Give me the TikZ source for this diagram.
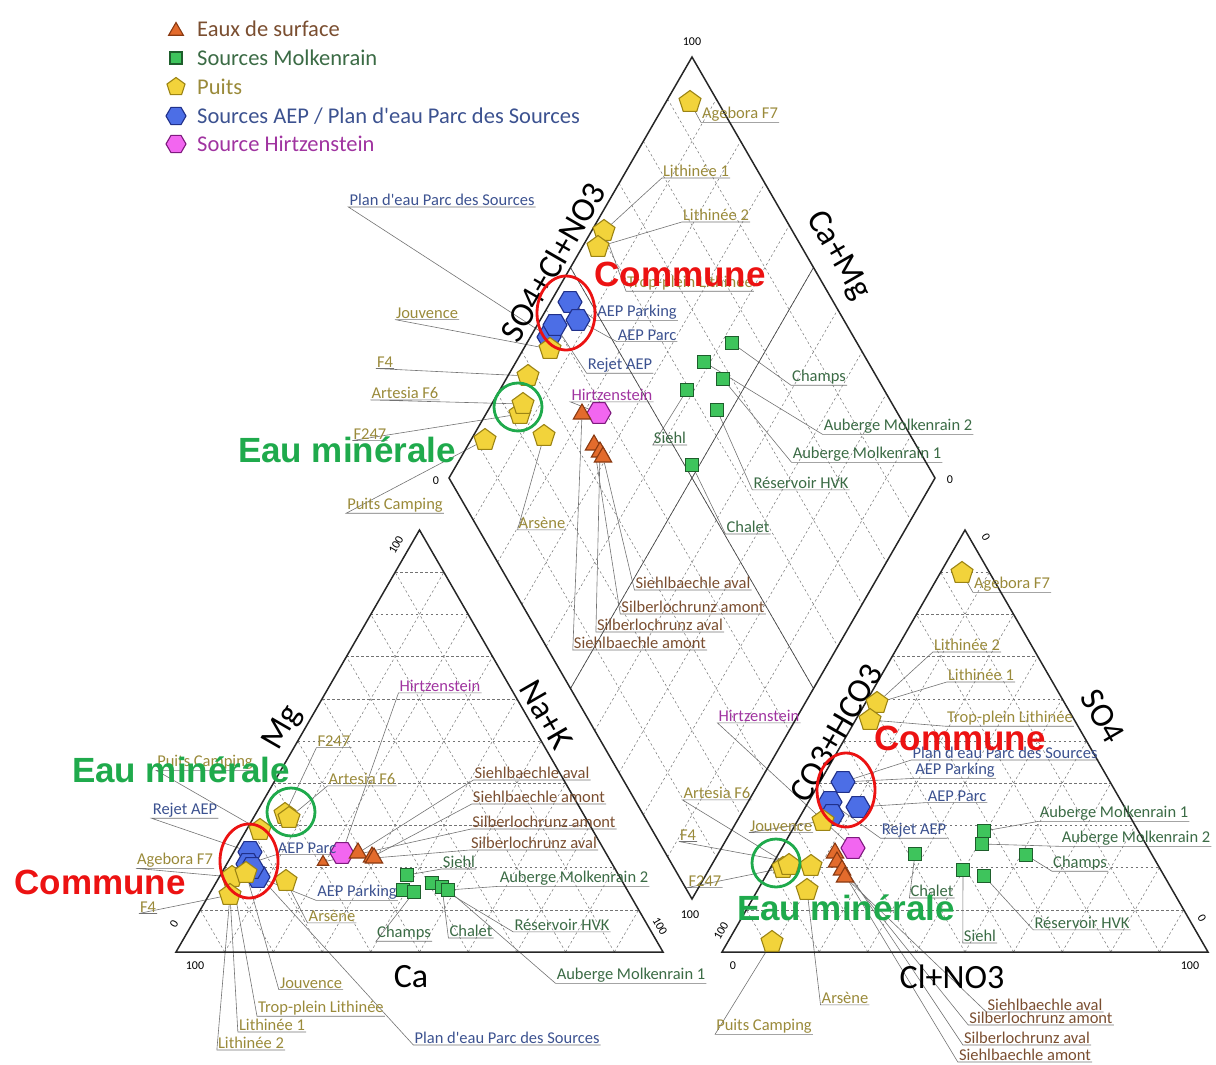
\documentclass[tikz,border=0pt]{standalone}
\usepackage{fontspec}
\setmainfont{Carlito}[Ligatures=TeXOff]
\newfontfamily\notefont{Liberation Sans}
\usetikzlibrary{shapes.geometric,calc}
\pgfdeclarelayer{bg}
\pgfsetlayers{bg,main}

\definecolor{triFill}{HTML}{E36B2C}
\definecolor{triDraw}{HTML}{8A3A12}
\definecolor{sqFill}{HTML}{3EC45C}
\definecolor{sqDraw}{HTML}{1E5E2C}
\definecolor{pentFill}{HTML}{F2D33B}
\definecolor{pentDraw}{HTML}{9C8414}
\definecolor{hexFill}{HTML}{4C6EE6}
\definecolor{hexDraw}{HTML}{20308A}
\definecolor{hirFill}{HTML}{F266F0}
\definecolor{hirDraw}{HTML}{7E1A7E}
\definecolor{txtBrown}{HTML}{7A4E30}
\definecolor{txtGreen}{HTML}{3B6B45}
\definecolor{txtOlive}{HTML}{9A8A3A}
\definecolor{txtBlue}{HTML}{3C5290}
\definecolor{txtPink}{HTML}{A034A0}
\definecolor{noteRed}{HTML}{EC1212}
\definecolor{noteGreen}{HTML}{1FAA4C}

\begin{document}
\begin{tikzpicture}[x=1pt, y=-1pt,
	surf/.style={regular polygon, regular polygon sides=3, minimum size=20pt, inner sep=0pt, fill=triFill, draw=triDraw, line width=1.1pt},
	molk/.style={rectangle, minimum size=13pt, inner sep=0pt, fill=sqFill, draw=sqDraw, line width=1.1pt},
	puits/.style={regular polygon, regular polygon sides=5, minimum size=23pt, inner sep=0pt, fill=pentFill, draw=pentDraw, line width=1.1pt},
	aep/.style={regular polygon, regular polygon sides=6, minimum size=24pt, inner sep=0pt, fill=hexFill, draw=hexDraw, line width=1.1pt},
	hirtz/.style={regular polygon, regular polygon sides=6, minimum size=24pt, inner sep=0pt, fill=hirFill, draw=hirDraw, line width=1.1pt},
	lbl/.style={inner sep=1pt, font=\fontsize{16.5}{18}\selectfont},
	olive/.style={lbl, text=txtOlive},
	blue/.style={lbl, text=txtBlue},
	green/.style={lbl, text=txtGreen},
	brown/.style={lbl, text=txtBrown},
	pink/.style={lbl, text=txtPink},
	legtxt/.style={inner sep=1pt, anchor=west, font=\fontsize{22.5}{24}\selectfont},
	lead/.style={draw=black!55, line width=0.6pt},
	gridline/.style={black!55, line width=0.5pt, dash pattern=on 2.5pt off 2.5pt},
	frame/.style={black!85, line width=1.5pt},
	axis/.style={inner sep=0pt, font=\fontsize{34}{36}\selectfont},
	tick/.style={inner sep=0pt, font=\fontsize{12}{13}\selectfont},
	note/.style={inner sep=0pt, font=\notefont\bfseries\fontsize{35}{38}\selectfont},
	ring/.style={line width=2.8pt}]
\useasboundingbox (0,0) rectangle (1216,1065);

% corners of the three fields
\coordinate (cLeft) at (176,952);
\coordinate (cRight) at (663,952);
\coordinate (cTop) at (419.5,530);
\coordinate (aLeft) at (722,952);
\coordinate (aRight) at (1208,952);
\coordinate (aTop) at (965,530);
\coordinate (dLeft) at (449,478);
\coordinate (dTop) at (692,57);
\coordinate (dRight) at (935,478);
\coordinate (dBot) at (692,899);

% grids
\foreach \i in {1,...,9} {
	\draw[gridline] ($(cLeft)!\i/10!(cTop)$) -- ($(cRight)!\i/10!(cTop)$);
	\draw[gridline] ($(cLeft)!\i/10!(cRight)$) -- ($(cTop)!\i/10!(cRight)$);
	\draw[gridline] ($(cRight)!\i/10!(cLeft)$) -- ($(cTop)!\i/10!(cLeft)$);
	\draw[gridline] ($(aLeft)!\i/10!(aTop)$) -- ($(aRight)!\i/10!(aTop)$);
	\draw[gridline] ($(aLeft)!\i/10!(aRight)$) -- ($(aTop)!\i/10!(aRight)$);
	\draw[gridline] ($(aRight)!\i/10!(aLeft)$) -- ($(aTop)!\i/10!(aLeft)$);
	\draw[gridline] ($(dLeft)!\i/10!(dTop)$) -- ($(dBot)!\i/10!(dRight)$);
	\draw[gridline] ($(dLeft)!\i/10!(dBot)$) -- ($(dTop)!\i/10!(dRight)$);
}
\draw[black!70, line width=0.7pt] ($(dLeft)!0.5!(dTop)$) -- ($(dBot)!0.5!(dRight)$);
\draw[black!70, line width=0.7pt] ($(dLeft)!0.5!(dBot)$) -- ($(dTop)!0.5!(dRight)$);
\draw[frame] (cLeft) -- (cRight) -- (cTop) -- cycle;
\draw[frame] (aLeft) -- (aRight) -- (aTop) -- cycle;
\draw[frame] (dLeft) -- (dTop) -- (dRight) -- (dBot) -- cycle;

% axis titles and ticks
\node[axis, rotate=60] (axSO) at (553,262) {SO4+Cl+NO3};
\node[axis, rotate=-60] (axCaMg) at (838,256) {Ca+Mg};
\node[axis, rotate=60] (axMg) at (283,728) {Mg};
\node[axis, rotate=-60] (axNaK) at (546,715) {Na+K};
\node[axis] (axCa) at (411,977) {Ca};
\node[axis, rotate=60] (axCO) at (836,733) {CO3+HCO3};
\node[axis, rotate=-60] (axSOfour) at (1103,716) {SO4};
\node[axis] (axCl) at (952,977) {Cl+NO3};
\node[tick] (tkDTop) at (692,42) {100};
\node[tick] (tkDLeft) at (436,481) {0};
\node[tick] (tkDRight) at (950,480) {0};
\node[tick] (tkDBot) at (690,915) {100};
\node[tick, rotate=60] (tkCTop) at (396,545) {100};
\node[tick, rotate=60] (tkCLeft) at (174,924) {0};
\node[tick] (tkCBase) at (195,966) {100};
\node[tick, rotate=-60] (tkCRight) at (660,926) {100};
\node[tick] (tkABase) at (733,966) {0};
\node[tick] (tkARight) at (1190,966) {100};
\node[tick, rotate=60] (tkALeft) at (721,931) {100};
\node[tick, rotate=-60] (tkATop) at (986,537) {0};
\node[tick, rotate=-60] (tkASide) at (1202,918) {0};

% diamond points
\node[aep] (dH1) at (549,337) {};
\node[aep] (dH2) at (570,302) {};
\node[aep] (dH3) at (578,320) {};
\node[aep] (dH4) at (555,325) {};
\node[puits] (dP1) at (690,102) {};
\node[puits] (dP2) at (604,231) {};
\node[puits] (dP3) at (598,247) {};
\node[puits] (dP4) at (550,349) {};
\node[puits] (dP5) at (528,376) {};
\node[puits] (dP6) at (520,414) {};
\node[puits] (dP7) at (523,404) {};
\node[puits] (dP8) at (485,440) {};
\node[puits] (dP9) at (544,436) {};
\node[hirtz] (dM) at (599,413) {};
\node[surf] (dT1) at (582,414) {};
\node[surf] (dT2) at (594,445) {};
\node[surf] (dT3) at (600,452) {};
\node[surf] (dT4) at (603,457) {};
\node[molk] (dS1) at (732,343) {};
\node[molk] (dS2) at (704,362) {};
\node[molk] (dS3) at (723,379) {};
\node[molk] (dS4) at (687,390) {};
\node[molk] (dS5) at (717,410) {};
\node[molk] (dS6) at (692,465) {};

% diamond labels
\node[olive] (dlAgebora) at (740,114) {Agebora F7};
\node[olive] (dlLithA) at (696,171) {Lithinée 1};
\node[olive] (dlLithB) at (716,215) {Lithinée 2};
\node[olive] (dlTrop) at (690,283) {Trop-plein Lithinée};
\node[blue] (dlPlan) at (442,200) {Plan d'eau Parc des Sources};
\node[blue] (dlPark) at (637,312) {AEP Parking};
\node[blue] (dlParc) at (647,335) {AEP Parc};
\node[blue] (dlRejet) at (620,365) {Rejet AEP};
\node[pink] (dlHirtz) at (612,395) {Hirtzenstein};
\node[olive] (dlJouv) at (427,313) {Jouvence};
\node[olive] (dlFfour) at (385,362) {F4};
\node[olive] (dlArtesia) at (405,393) {Artesia F6};
\node[olive] (dlFtwo) at (370,434) {F247};
\node[olive] (dlCamping) at (395,505) {Puits Camping};
\node[olive] (dlArsene) at (542,523) {Arsène};
\node[green] (dlSiehl) at (670,438) {Siehl};
\node[green] (dlChamps) at (819,377) {Champs};
\node[green] (dlAubB) at (898,426) {Auberge Molkenrain 2};
\node[green] (dlAubA) at (867,454) {Auberge Molkenrain 1};
\node[green] (dlHVK) at (801,483) {Réservoir HVK};
\node[green] (dlChalet) at (748,527) {Chalet};
\node[brown] (dlSbAval) at (693,583) {Siehlbaechle aval};
\node[brown] (dlSlAmont) at (693,607) {Silberlochrunz amont};
\node[brown] (dlSlAval) at (660,625) {Silberlochrunz aval};
\node[brown] (dlSbAmont) at (640,643) {Siehlbaechle amont};

% cation points
\node[aep] (cH1) at (250,852) {};
\node[aep] (cH2) at (248,864) {};
\node[aep] (cH3) at (258,877) {};
\node[aep] (cH4) at (252,868) {};
\node[puits] (cP1) at (285,814) {};
\node[puits] (cP2) at (289,818) {};
\node[puits] (cP3) at (260,830) {};
\node[puits] (cP4) at (232,877) {};
\node[puits] (cP5) at (246,873) {};
\node[puits] (cP6) at (230,895) {};
\node[puits] (cP7) at (286,881) {};
\node[surf, minimum size=13pt] (cT1) at (323,862) {};
\node[hirtz] (cM) at (342,853) {};
\node[surf] (cT2) at (358,853) {};
\node[surf] (cT3) at (372,857) {};
\node[surf] (cT4) at (374,858) {};
\node[molk] (cS1) at (407,875) {};
\node[molk] (cS2) at (403,890) {};
\node[molk] (cS3) at (414,892) {};
\node[molk] (cS4) at (432,883) {};
\node[molk] (cS5) at (442,887) {};
\node[molk] (cS6) at (448,890) {};

% cation labels
\node[pink] (clHirtz) at (440,686) {Hirtzenstein};
\node[olive] (clFtwo) at (334,741) {F247};
\node[olive] (clCamping) at (205,762) {Puits Camping};
\node[olive] (clArtesia) at (362,779) {Artesia F6};
\node[blue] (clRejet) at (185,810) {Rejet AEP};
\node[blue] (clParc) at (307,848) {AEP Parc};
\node[olive] (clAgebora) at (175,860) {Agebora F7};
\node[olive] (clFfour) at (148,907) {F4};
\node[blue] (clPark) at (357,892) {AEP Parking};
\node[olive] (clArsene) at (332,916) {Arsène};
\node[olive] (clJouv) at (311,983) {Jouvence};
\node[olive] (clTrop) at (321,1008) {Trop-plein Lithinée};
\node[olive] (clLithA) at (272,1025) {Lithinée 1};
\node[olive] (clLithB) at (251,1043) {Lithinée 2};
\node[blue] (clPlan) at (507,1038) {Plan d'eau Parc des Sources};
\node[brown] (clSbAval) at (532,773) {Siehlbaechle aval};
\node[brown] (clSbAmont) at (539,797) {Siehlbaechle amont};
\node[brown] (clSlAmont) at (544,822) {Silberlochrunz amont};
\node[brown] (clSlAval) at (534,843) {Silberlochrunz aval};
\node[green] (clSiehl) at (459,862) {Siehl};
\node[green] (clAubB) at (574,878) {Auberge Molkenrain 2};
\node[green] (clChamps) at (404,933) {Champs};
\node[green] (clChalet) at (471,931) {Chalet};
\node[green] (clHVK) at (562,925) {Réservoir HVK};
\node[green] (clAubA) at (631,975) {Auberge Molkenrain 1};

% anion points
\node[aep] (aH1) at (843,782) {};
\node[aep] (aH2) at (830,802) {};
\node[aep] (aH3) at (858,807) {};
\node[aep] (aH4) at (832,815) {};
\node[puits] (aP1) at (962,573) {};
\node[puits] (aP2) at (877,703) {};
\node[puits] (aP3) at (870,720) {};
\node[puits] (aP4) at (823,821) {};
\node[puits] (aP5) at (783,868) {};
\node[puits] (aP6) at (789,865) {};
\node[puits] (aP7) at (811,866) {};
\node[puits] (aP8) at (807,890) {};
\node[puits] (aP9) at (772,942) {};
\node[hirtz] (aM) at (853,848) {};
\node[surf] (aT1) at (835,853) {};
\node[surf] (aT2) at (837,862) {};
\node[surf] (aT4) at (842,870) {};
\node[surf] (aT3) at (845,877) {};
\node[molk] (aS1) at (984,831) {};
\node[molk] (aS2) at (982,844) {};
\node[molk] (aS3) at (915,854) {};
\node[molk] (aS4) at (1026,855) {};
\node[molk] (aS5) at (963,870) {};
\node[molk] (aS6) at (984,876) {};

% anion labels
\node[olive] (alAgebora) at (1012,584) {Agebora F7};
\node[olive] (alLithB) at (967,645) {Lithinée 2};
\node[olive] (alLithA) at (981,675) {Lithinée 1};
\node[olive] (alTrop) at (1010,718) {Trop-plein Lithinée};
\node[blue] (alPlan) at (1005,753) {Plan d'eau Parc des Sources};
\node[blue] (alPark) at (955,770) {AEP Parking};
\node[blue] (alParc) at (957,796) {AEP Parc};
\node[blue] (alRejet) at (914,830) {Rejet AEP};
\node[pink] (alHirtz) at (759,716) {Hirtzenstein};
\node[olive] (alArtesia) at (717,793) {Artesia F6};
\node[olive] (alJouv) at (781,826) {Jouvence};
\node[olive] (alFfour) at (688,835) {F4};
\node[olive] (alFtwo) at (705,881) {F247};
\node[green] (alAubA) at (1114,813) {Auberge Molkenrain 1};
\node[green] (alAubB) at (1136,838) {Auberge Molkenrain 2};
\node[green] (alChamps) at (1080,863) {Champs};
\node[green] (alChalet) at (932,891) {Chalet};
\node[green] (alHVK) at (1082,923) {Réservoir HVK};
\node[green] (alSiehl) at (980,936) {Siehl};
\node[olive] (alArsene) at (845,998) {Arsène};
\node[olive] (alCamping) at (764,1026) {Puits Camping};
\node[brown] (alSbAval) at (1045,1005) {Siehlbaechle aval};
\node[brown] (alSlAmont) at (1041,1018) {Silberlochrunz amont};
\node[brown] (alSlAval) at (1027,1038) {Silberlochrunz aval};
\node[brown] (alSbAmont) at (1025,1055) {Siehlbaechle amont};

% leader lines, under everything
\begin{pgfonlayer}{bg}
\foreach \m/\l in {dP1/dlAgebora, dP2/dlLithA, dP3/dlLithB, dP2/dlTrop, dH1/dlPlan, dH2/dlPark,
	dH3/dlParc, dH4/dlRejet, dM/dlHirtz, dP4/dlJouv, dP5/dlFfour, dP7/dlArtesia, dP6/dlFtwo,
	dP8/dlCamping, dP9/dlArsene, dS4/dlSiehl, dS1/dlChamps, dS2/dlAubB, dS3/dlAubA, dS5/dlHVK,
	dS6/dlChalet, dT4/dlSbAval, dT2/dlSlAmont, dT3/dlSlAval, dT1/dlSbAmont,
	cM/clHirtz, cP1/clFtwo, cP3/clCamping, cP2/clArtesia, cH1/clRejet, cH2/clParc, cP4/clAgebora,
	cP6/clFfour, cH3/clPark, cP7/clArsene, cP5/clJouv, cP4/clTrop, cP6/clLithA, cP6/clLithB,
	cH4/clPlan, cT2/clSbAval, cT3/clSbAmont, cT1/clSlAmont, cT4/clSlAval, cS1/clSiehl, cS6/clAubB,
	cS3/clChamps, cS5/clChalet, cS4/clHVK, cS6/clAubA,
	aP1/alAgebora, aP2/alLithB, aP2/alLithA, aP3/alTrop, aH1/alPlan, aH1/alPark, aH3/alParc,
	aH2/alRejet, aM/alHirtz, aP6/alArtesia, aP4/alJouv, aP7/alFfour, aP5/alFtwo, aS1/alAubA,
	aS2/alAubB, aS4/alChamps, aS3/alChalet, aS6/alHVK, aS5/alSiehl, aP8/alArsene, aP9/alCamping,
	aT3/alSbAval, aT2/alSlAmont, aT1/alSlAval, aT4/alSbAmont}
	\draw[lead] (\m) -- (\l.south west) -- (\l.south east);
\end{pgfonlayer}

% legend
\node[surf, minimum size=17pt] (legSurf) at (176,31) {};
\node[legtxt, text=txtBrown] (legSurfT) at (196,29) {Eaux de surface};
\node[molk, minimum size=12pt] (legMolk) at (176,58) {};
\node[legtxt, text=txtGreen] (legMolkT) at (196,58) {Sources Molkenrain};
\node[puits, minimum size=19pt] (legPuits) at (176,87) {};
\node[legtxt, text=txtOlive] (legPuitsT) at (196,87) {Puits};
\node[aep, minimum size=20pt] (legAep) at (176,116) {};
\node[legtxt, text=txtBlue] (legAepT) at (196,116) {Sources AEP / Plan d'eau Parc des Sources};
\node[hirtz, minimum size=20pt] (legHirtz) at (176,144) {};
\node[legtxt, text=txtPink] (legHirtzT) at (196,144) {Source Hirtzenstein};

% highlights
\draw[ring, noteRed] (566,313) ellipse [x radius=29pt, y radius=37pt];
\draw[ring, noteRed] (249,861) ellipse [x radius=29pt, y radius=37pt];
\draw[ring, noteRed] (846,790) ellipse [x radius=29pt, y radius=37pt];
\draw[ring, noteGreen] (518,407) circle [radius=24pt];
\draw[ring, noteGreen] (291,812) circle [radius=24pt];
\draw[ring, noteGreen] (776,863) circle [radius=24pt];
\node[note, text=noteRed] (dCommune) at (680,274) {Commune};
\node[note, text=noteRed] (cCommune) at (100,882) {Commune};
\node[note, text=noteRed] (aCommune) at (960,738) {Commune};
\node[note, text=noteGreen] (dMinerale) at (347,450) {Eau minérale};
\node[note, text=noteGreen] (cMinerale) at (181,770) {Eau minérale};
\node[note, text=noteGreen] (aMinerale) at (846,908) {Eau minérale};
\end{tikzpicture}
\end{document}
